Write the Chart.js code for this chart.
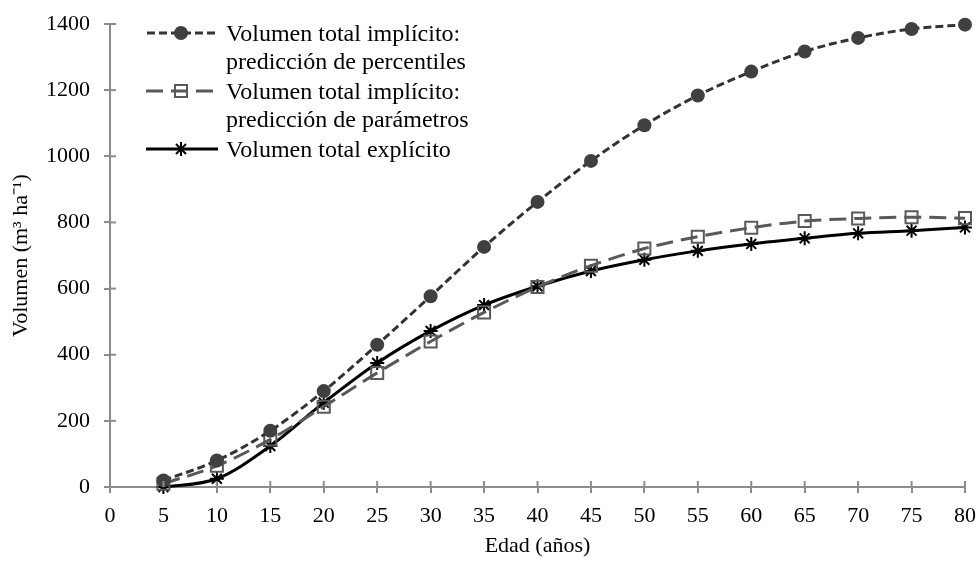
<!DOCTYPE html>
<html lang="es">
<head>
<meta charset="utf-8">
<title>Volumen total por edad</title>
<script src="https://cdn.jsdelivr.net/npm/chart.js@4"></script>
<style>
  body { margin: 0; background: #fff; }
  #wrap { position: relative; width: 980px; height: 563px; }
  #legend {
    position: absolute; left: 146px; top: 19px;
    font-family: "Liberation Serif", "Times New Roman", serif;
    font-size: 24px; line-height: 28px; color: #000;
  }
  .item { display: flex; align-items: flex-start; margin-bottom: 2px; }
  .item svg { flex: none; margin-right: 8px; margin-top: 5px; }
</style>
</head>
<body>
<div id="wrap">
  <canvas id="volChart"></canvas>
  <div id="legend">
    <div class="item">
      <svg width="72" height="18"><line x1="1" y1="9" x2="72" y2="9" stroke="#333" stroke-width="3" stroke-dasharray="8,4"/><circle cx="35" cy="9" r="7" fill="#404040"/></svg>
      <div>Volumen total implícito:<br>predicción de percentiles</div>
    </div>
    <div class="item">
      <svg width="72" height="18"><line x1="0" y1="9" x2="72" y2="9" stroke="#595959" stroke-width="3" stroke-dasharray="17,8"/><rect x="29" y="3" width="12" height="12" fill="none" stroke="#595959" stroke-width="2"/></svg>
      <div>Volumen total implícito:<br>predicción de parámetros</div>
    </div>
    <div class="item">
      <svg width="72" height="18"><line x1="0" y1="9" x2="72" y2="9" stroke="#000" stroke-width="3"/><g stroke="#000" stroke-width="2"><line x1="30" y1="4" x2="40" y2="14"/><line x1="40" y1="4" x2="30" y2="14"/><line x1="35" y1="2" x2="35" y2="16"/></g></svg>
      <div>Volumen total explícito</div>
    </div>
  </div>
</div>
<script>
// Edad (años)
const AGES = [5, 10, 15, 20, 25, 30, 35, 40, 45, 50, 55, 60, 65, 70, 75, 80];
// Volumen (m3/ha) por serie
const VOL_PERCENTILES = [20, 80, 170, 290, 430, 577, 726, 862, 986, 1094, 1184, 1256, 1317, 1358, 1385, 1398];
const VOL_PARAMETROS = [10, 64, 144, 243, 345, 440, 528, 605, 669, 721, 757, 784, 804, 812, 816, 813];
const VOL_EXPLICITO = [0, 25, 124, 255, 375, 472, 550, 607, 653, 687, 714, 735, 752, 767, 775, 785];

const FONT = "'Liberation Serif', 'Times New Roman', serif";
const AXIS_GREY = "#8c8c8c";

function toPoints(values) {
  return AGES.map((a, i) => ({ x: a, y: values[i] }));
}

// draws the inner half of each tick so they cross the axis line
const crossTicks = {
  id: "crossTicks",
  afterDraw(chart) {
    const { ctx, scales } = chart;
    ctx.save();
    ctx.strokeStyle = AXIS_GREY;
    ctx.lineWidth = 2;
    scales.x.ticks.forEach((t) => {
      const px = scales.x.getPixelForValue(t.value);
      ctx.beginPath();
      ctx.moveTo(px, scales.x.top);
      ctx.lineTo(px, scales.x.top - 6);
      ctx.stroke();
    });
    scales.y.ticks.forEach((t) => {
      const py = scales.y.getPixelForValue(t.value);
      ctx.beginPath();
      ctx.moveTo(scales.y.right, py);
      ctx.lineTo(scales.y.right + 6, py);
      ctx.stroke();
    });
    ctx.restore();
  },
};

function initVolChart() {
  const ctx = document.getElementById("volChart");
  new Chart(ctx, {
    type: "line",
    data: {
      datasets: [
        {
          label: "Volumen total explícito",
          data: toPoints(VOL_EXPLICITO),
          borderColor: "#000",
          borderWidth: 3,
          cubicInterpolationMode: "monotone",
          pointStyle: "star",
          pointRadius: 7,
          pointBorderWidth: 2,
          pointBorderColor: "#000",
          clip: false,
          order: 3,
        },
        {
          label: "Volumen total implícito: predicción de parámetros",
          data: toPoints(VOL_PARAMETROS),
          borderColor: "#595959",
          borderWidth: 3,
          borderDash: [17, 8],
          cubicInterpolationMode: "monotone",
          pointStyle: "rect",
          pointRadius: 8.5,
          pointBorderWidth: 2,
          pointBorderColor: "#595959",
          pointBackgroundColor: "rgba(0,0,0,0)",
          clip: false,
          order: 2,
        },
        {
          label: "Volumen total implícito: predicción de percentiles",
          data: toPoints(VOL_PERCENTILES),
          borderColor: "#333",
          borderWidth: 3,
          borderDash: [8, 4],
          cubicInterpolationMode: "monotone",
          pointStyle: "circle",
          pointRadius: 7,
          pointBorderWidth: 0,
          pointBackgroundColor: "#404040",
          clip: false,
          order: 1,
        },
      ],
    },
    options: {
      responsive: true,
      maintainAspectRatio: false,
      animation: false,
      layout: { padding: { top: 24, right: 15, left: 0, bottom: 0 } },
      plugins: { legend: { display: false }, tooltip: { enabled: false } },
      scales: {
        x: {
          type: "linear",
          min: 0,
          max: 80,
          afterFit: (s) => { s.height = 76; s.paddingLeft = 0; s.paddingRight = 0; },
          border: { color: AXIS_GREY, width: 2 },
          grid: { drawOnChartArea: false, color: AXIS_GREY, lineWidth: 2, tickLength: 6 },
          ticks: { stepSize: 5, color: "#000", font: { family: FONT, size: 22 }, padding: 10, maxRotation: 0 },
          title: { display: true, text: "Edad (años)", color: "#000", font: { family: FONT, size: 22 }, padding: { top: 10 } },
        },
        y: {
          min: 0,
          max: 1400,
          afterFit: (s) => { s.width = 110; s.paddingTop = 0; s.paddingBottom = 0; },
          border: { color: AXIS_GREY, width: 2 },
          grid: { drawOnChartArea: false, color: AXIS_GREY, lineWidth: 2, tickLength: 6 },
          ticks: { stepSize: 200, color: "#000", font: { family: FONT, size: 22 }, padding: 14, callback: (v) => String(v) },
          title: { display: true, text: "Volumen (m³ ha⁻¹)", color: "#000", font: { family: FONT, size: 22 }, padding: { top: 8, bottom: 0 } },
        },
      },
    },
    plugins: [crossTicks],
  });
}

initVolChart();
</script>
</body>
</html>
